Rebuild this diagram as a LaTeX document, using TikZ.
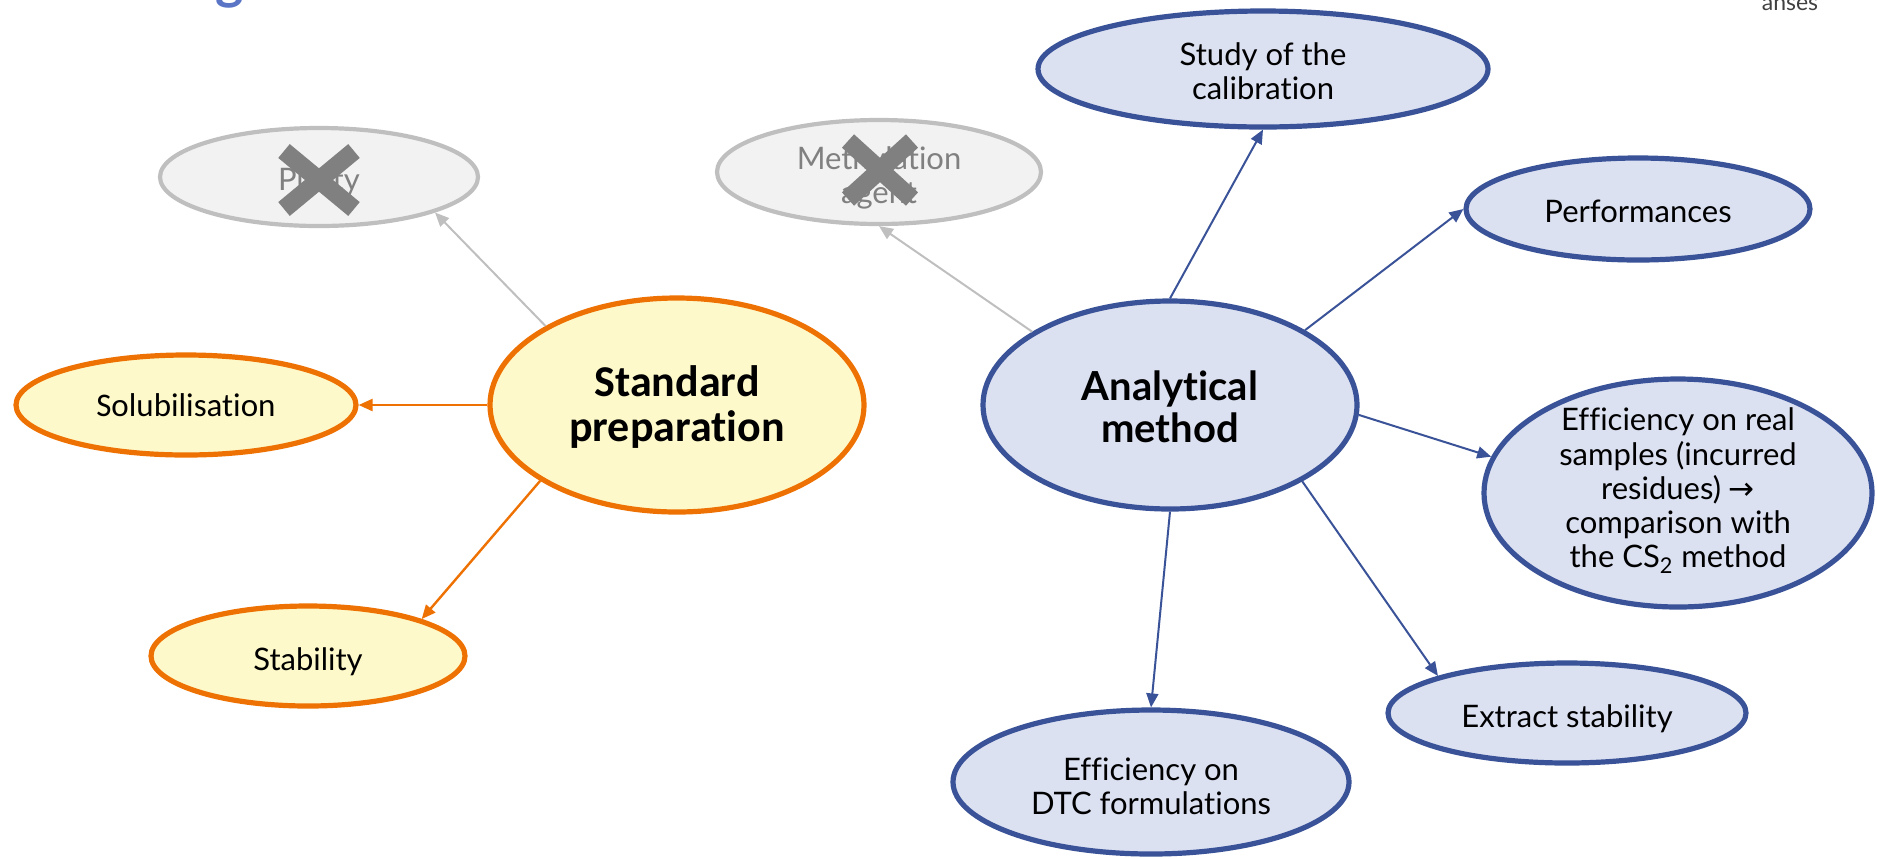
\documentclass[tikz,border=0pt]{standalone}
\usepackage{fontspec}
\setmainfont{Lato}[Ligatures=NoCommon]
\newfontfamily\calfont{Carlito}[Ligatures=NoCommon]
\newfontfamily\symfont{DejaVu Sans}
\usetikzlibrary{shapes.geometric,arrows.meta}

\definecolor{bluedge}{HTML}{3A5398}
\definecolor{bluefill}{HTML}{DCE1F2}
\definecolor{orangedge}{HTML}{EE7203}
\definecolor{yellowfill}{HTML}{FEF9CA}
\definecolor{grayedge}{HTML}{BFBFBF}
\definecolor{grayfill}{HTML}{F2F2F2}
\definecolor{crossgray}{HTML}{808080}
\definecolor{titleblue}{HTML}{5A75C6}
\definecolor{logogray}{HTML}{404040}

% centred block of lines whose last baseline sits #1 above the node centre
\newcommand\lift[2]{\raisebox{#1}[0pt][0pt]{\begin{tabular}[b]{@{}c@{}}#2\end{tabular}}}

\tikzset{
  bubble/.style={ellipse, inner sep=0pt, line width=2.6pt,
    font=\fontsize{15.5}{17}\selectfont},
  bluebub/.style={bubble, draw=bluedge, fill=bluefill},
  orangebub/.style={bubble, draw=orangedge, fill=yellowfill},
  graybub/.style={bubble, draw=grayedge, fill=grayfill, text=crossgray, line width=2.1pt},
  tipshape/.style={-{Triangle[length=7pt,width=6pt]}},
  bluearrow/.style={tipshape, draw=bluedge, fill=bluedge, line width=1pt},
  orangearrow/.style={tipshape, draw=orangedge, fill=orangedge, line width=1.2pt},
  grayarrow/.style={tipshape, draw=grayedge, fill=grayedge, line width=1pt},
  crossmark/.style={draw=crossgray, line width=9pt},
  hub/.style={font=\fontsize{20}{21}\selectfont\bfseries}
}

\begin{document}
\begin{tikzpicture}[x=0.5pt, y=-0.5pt]
\useasboundingbox (0,0) rectangle (1877,858);
\clip (0,0) rectangle (1877,858);

% title glyph and logo text running off the top edge
\node[anchor=base, text=titleblue, font=\fontsize{27}{27}\selectfont\bfseries, inner sep=0pt] (ttl) at (230,-2) {g};
\node[anchor=base, text=logogray, font=\fontsize{11.5}{12}\selectfont, inner sep=0pt] (logo) at (1790,10) {anses};

% left cluster
\node[graybub, minimum width=159pt, minimum height=49pt] (pur) at (319,177) {\lift{-6.6pt}{Purity}};
\node[orangebub, minimum width=170pt, minimum height=50pt, font=\calfont\fontsize{16.5}{18}\selectfont] (sol) at (186,405) {\lift{-5.8pt}{Solubilisation}};
\node[orangebub, minimum width=157pt, minimum height=50pt] (stab) at (308,656) {\lift{-7.2pt}{Stability}};
\node[orangebub, minimum width=187pt, minimum height=107pt, font=\calfont\fontsize{22}{22}\selectfont\bfseries] (sp) at (677,405) {\lift{-18pt}{Standard\\preparation}};

% right cluster
\node[graybub, minimum width=162pt, minimum height=52pt] (meth) at (879,172) {\lift{-15.7pt}{Methylation\\agent}};
\node[bluebub, minimum width=225pt, minimum height=58pt] (study) at (1263,69) {\lift{-15.4pt}{Study of the\\calibration}};
\node[bluebub, minimum width=172pt, minimum height=51pt] (perf) at (1638,209) {\lift{-6.9pt}{Performances}};
\node[bluebub, minimum width=187pt, minimum height=104pt, hub] (am) at (1170,405) {\lift{-18.9pt}{Analytical\\method}};
\node[bluebub, minimum width=194pt, minimum height=114pt] (eff) at (1678,493)
  {\lift{-37.2pt}{Efficiency on real\\samples (incurred\\residues) {\symfont →}\\comparison with\\the CS\textsubscript{2} method}};
\node[bluebub, minimum width=179pt, minimum height=50pt] (ext) at (1567,713) {\lift{-7.2pt}{Extract stability}};
\node[bluebub, minimum width=198pt, minimum height=72pt] (dtc) at (1151,782) {\lift{-16pt}{Efficiency on\\DTC formulations}};

% struck-out items
\draw[crossmark] ([shift={(-35,-26)}]pur.center) -- ([shift={(35,32)}]pur.center);
\draw[crossmark] ([shift={(35,-26)}]pur.center) -- ([shift={(-35,32)}]pur.center);
\draw[crossmark] ([shift={(-31,-31)}]meth.center) -- ([shift={(33,27)}]meth.center);
\draw[crossmark] ([shift={(33,-31)}]meth.center) -- ([shift={(-31,27)}]meth.center);

% connectors
\draw[grayarrow] (sp.149) -- (pur.-17);
\draw[orangearrow] (sp.west) -- (sol.east);
\draw[orangearrow] (sp.209) -- (stab.18);
\draw[grayarrow] (am.152) -- (meth.south);
\draw[bluearrow] (am.north) -- (study.south);
\draw[bluearrow] (am.29) -- (perf.west);
\draw[bluearrow] (am.-3) -- (eff.169);
\draw[bluearrow] (am.-30) -- (ext.164);
\draw[bluearrow] (am.south) -- (dtc.north);
\end{tikzpicture}
\end{document}
